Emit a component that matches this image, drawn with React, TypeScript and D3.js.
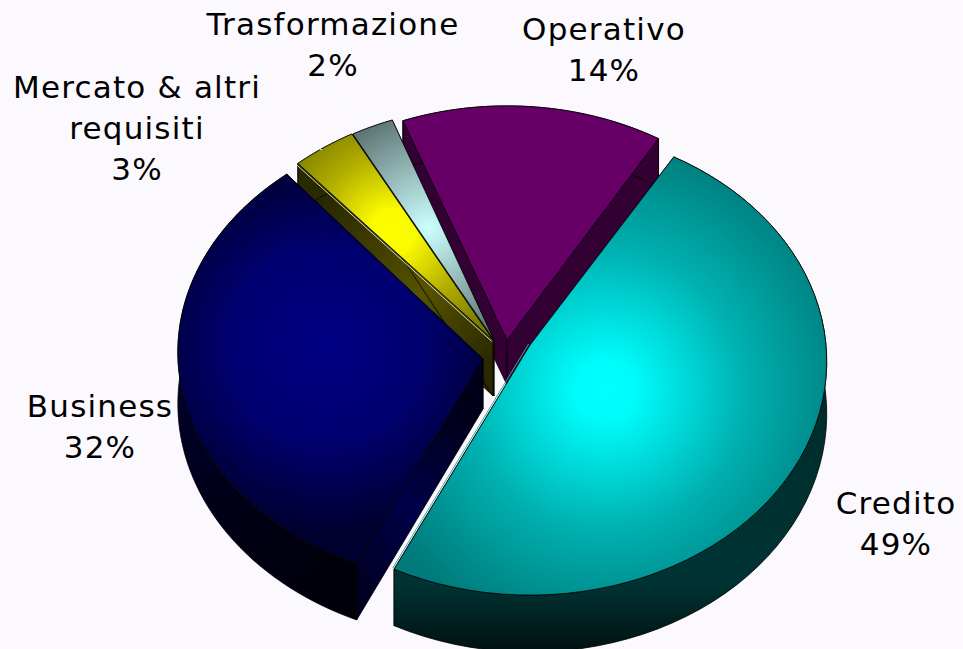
import React from "react";
import * as d3 from "d3";

const categories = ["Credito", "Business", "Mercato & altri\nrequisiti", "Trasformazione", "Operativo"];
const shares = [0.488, 0.315, 0.034, 0.022, 0.141];

const W = 963, H = 649, BG = "#fbf9fd";
const START = (31 * Math.PI) / 180;
const DEG = Math.PI / 180;

// Where each exploded slice's tip sits, its own perspective and how its faces are painted
const sliceStyle = [
  { id: "cred", apex: [530, 345], rx: 296, ry: 232.6, persp: 0.07, trim: [0, -1.2], tipDepth: 50, top: "url(#gCred)", outer: "url(#wCred)", side: "#002222", edge: "#3fa6a6", edgeShift: [-1.4, -1] },
  { id: "bus", apex: [483, 359], rx: 305, ry: 232, persp: -0.03, trim: [-1.5, 1], tipDepth: 50, top: "url(#gBus)", outer: "url(#wBus)", side: "url(#sBus)", edge: "", edgeShift: [0, 0] },
  { id: "mer", apex: [493, 340], rx: 300, ry: 239.5, persp: 0.023, trim: [-1.5, -1], tipDepth: 56, top: "url(#gMer)", outer: "#2a2a00", side: "url(#sMer)", edge: "#d8d8c8", edgeShift: [-1.2, 1.4] },
  { id: "tra", apex: [494, 340], rx: 300, ry: 239.5, persp: 0.023, trim: [-1, -0.5], tipDepth: 56, top: "url(#gTra)", outer: "#2a3a3a", side: "#22302f", edge: "", edgeShift: [0, 0] },
  { id: "ope", apex: [507, 340], rx: 300, ry: 239.5, persp: 0.023, trim: [-1, 0], tipDepth: 45, top: "#660066", outer: "#330033", side: "#330033", edge: "", edgeShift: [0, 0] },
];
const drawOrder = [4, 3, 2, 1, 0];

const labelStyle = [
  { x: 896, y: 514 },
  { x: 100, y: 417 },
  { x: 137, y: 98 },
  { x: 333, y: 35 },
  { x: 604, y: 40 },
];

const pct = d3.format(".0%");
const pathOf = d3.line<number[]>().x((d) => d[0]).y((d) => d[1]);

function project(st: (typeof sliceStyle)[number], theta: number, lower: boolean) {
  const c = Math.cos(theta), s = Math.sin(theta);
  const w = 1 / (1 + st.persp * c);
  const x = st.apex[0] + st.rx * s * w;
  const y = st.apex[1] - st.ry * c * w;
  const d = lower ? 52 - 5 * c : 0;
  return [x, y + d];
}

export default function App() {
  const arcs = d3.pie<number>().sort(null).startAngle(START).endAngle(START + 2 * Math.PI)(shares);

  const marks = drawOrder.map((i) => {
    const st = sliceStyle[i];
    const a = arcs[i];
    const a0 = a.startAngle + st.trim[0] * DEG;
    const a1 = a.endAngle + st.trim[1] * DEG;
    const n = 60;
    const thetas = d3.range(n + 1).map((k) => a0 + ((a1 - a0) * k) / n);
    const rim = thetas.map((t) => project(st, t, false));
    const rimLow = thetas.map((t) => project(st, t, true));
    const tipUp = st.apex;
    const tipLow = [st.apex[0], st.apex[1] + st.tipDepth];
    const top = pathOf([tipUp, ...rim])! + "Z";
    const outer = pathOf([...rim, ...rimLow.slice().reverse()])! + "Z";
    const sideA = pathOf([tipUp, rim[0], rimLow[0], tipLow])! + "Z";
    const sideB = pathOf([tipUp, rim[n], rimLow[n], tipLow])! + "Z";
    const edgeEnd = st.id === "cred" ? rim[n] : rim[0];
    return (
      <g key={st.id} stroke="#000" strokeWidth={0.8} strokeLinejoin="round">
        <path d={sideA} fill={st.side} />
        <path d={sideB} fill={st.side} />
        <path d={outer} fill={st.outer} />
        <path d={top} fill={st.top} />
        {st.edge && (
          <path
            d={pathOf([tipUp, edgeEnd])!}
            fill="none"
            stroke={st.edge}
            strokeWidth={1}
            transform={`translate(${st.edgeShift[0]},${st.edgeShift[1]})`}
          />
        )}
      </g>
    );
  });

  const text = categories.map((c, i) => {
    const lines = [...c.split("\n"), pct(shares[i])];
    return (
      <text key={c} x={labelStyle[i].x} y={labelStyle[i].y} textAnchor="middle" fontFamily="DejaVu Sans" fontSize={31} letterSpacing={1.2} fill="#000">
        {lines.map((l, j) => (
          <tspan key={j} x={labelStyle[i].x} y={labelStyle[i].y + j * 41}>{l}</tspan>
        ))}
      </text>
    );
  });

  return (
    <svg width={W} height={H} style={{ position: "absolute", left: 0, top: 0, display: "block", background: BG }}>
      <defs>
        <radialGradient id="gCred" gradientUnits="userSpaceOnUse" cx={605} cy={390} r={255}>
          <stop offset="0" stopColor="#00ffff" />
          <stop offset="0.12" stopColor="#00fbfb" />
          <stop offset="0.55" stopColor="#00b0b0" />
          <stop offset="1" stopColor="#007a7a" />
        </radialGradient>
        <radialGradient id="gBus" gradientUnits="userSpaceOnUse" cx={325} cy={345} r={190}>
          <stop offset="0" stopColor="#000084" />
          <stop offset="0.5" stopColor="#000070" />
          <stop offset="1" stopColor="#00002e" />
        </radialGradient>
        <radialGradient id="gMer" gradientUnits="userSpaceOnUse" cx={392} cy={232} r={125}>
          <stop offset="0" stopColor="#ffff00" />
          <stop offset="0.18" stopColor="#fafa00" />
          <stop offset="0.6" stopColor="#b4b000" />
          <stop offset="1" stopColor="#7c7c00" />
        </radialGradient>
        <radialGradient id="gTra" gradientUnits="userSpaceOnUse" cx={428} cy={228} r={115}>
          <stop offset="0" stopColor="#ccffff" />
          <stop offset="0.5" stopColor="#98bcbc" />
          <stop offset="1" stopColor="#5f7876" />
        </radialGradient>
        <linearGradient id="wCred" gradientUnits="userSpaceOnUse" x1={0} y1={380} x2={0} y2={649}>
          <stop offset="0" stopColor="#002b2b" />
          <stop offset="0.75" stopColor="#003434" />
          <stop offset="1" stopColor="#001212" />
        </linearGradient>
        <linearGradient id="wBus" gradientUnits="userSpaceOnUse" x1={180} y1={350} x2={355} y2={625}>
          <stop offset="0" stopColor="#000030" />
          <stop offset="0.6" stopColor="#000012" />
          <stop offset="1" stopColor="#000008" />
        </linearGradient>
        <linearGradient id="sBus" gradientUnits="userSpaceOnUse" x1={355} y1={600} x2={484} y2={430}>
          <stop offset="0" stopColor="#00001e" />
          <stop offset="0.5" stopColor="#000048" />
          <stop offset="1" stopColor="#00001a" />
        </linearGradient>
        <linearGradient id="sMer" gradientUnits="userSpaceOnUse" x1={296} y1={170} x2={493} y2={360}>
          <stop offset="0" stopColor="#1c1c00" />
          <stop offset="0.65" stopColor="#565200" />
          <stop offset="1" stopColor="#2a2800" />
        </linearGradient>
      </defs>
      <rect width={W} height={H} fill={BG} />
      {marks}
      <path d="M280 127L322 150M334 85L333 103L373 125" fill="none" stroke="#ffffff" strokeWidth={1} />
      {text}
    </svg>
  );
}
